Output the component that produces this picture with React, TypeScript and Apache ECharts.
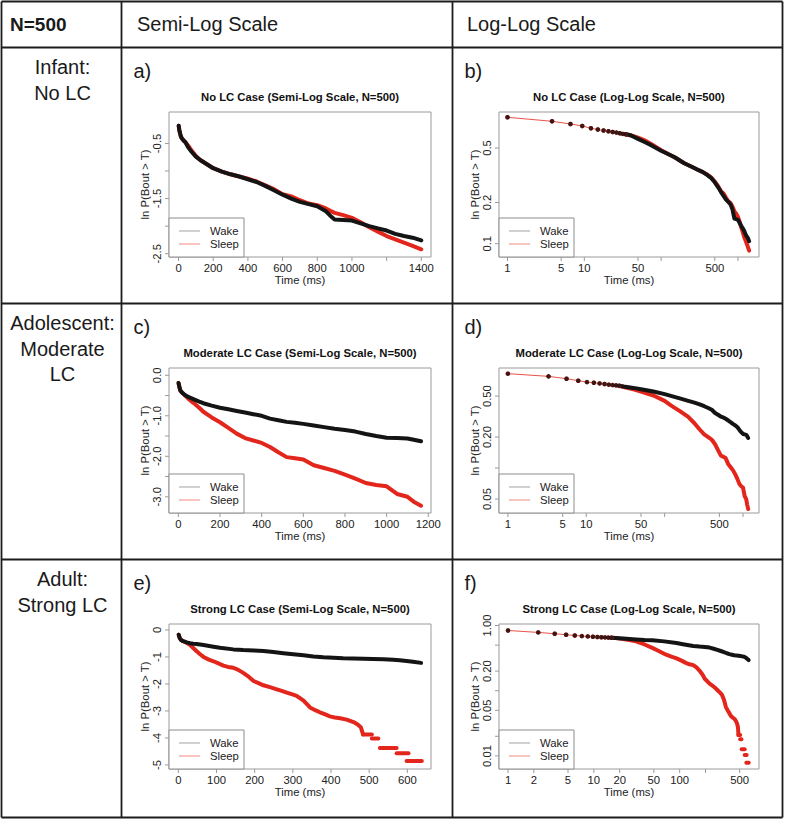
import React, { useEffect, useRef } from "react";
import * as echarts from "echarts";

// ---------------- texts ----------------
const headerLabels = ["N=500", "Semi-Log Scale", "Log-Log Scale"];
const rowLabels = [["Infant:", "No LC"], ["Adolescent:", "Moderate", "LC"], ["Adult:", "Strong LC"]];
const panelLetters = ["a)", "b)", "c)", "d)", "e)", "f)"];
const panelTitles = [
  "No LC Case (Semi-Log Scale, N=500)",
  "No LC Case (Log-Log Scale, N=500)",
  "Moderate LC Case (Semi-Log Scale, N=500)",
  "Moderate LC Case (Log-Log Scale, N=500)",
  "Strong LC Case (Semi-Log Scale, N=500)",
  "Strong LC Case (Log-Log Scale, N=500)",
];
const legendLabels = ["Wake", "Sleep"];
const xAxisTitle = "Time (ms)";
const yAxisTitle = "ln P(Bout > T)";

// ---------------- data: time (ms) and ln P(Bout > T) ----------------
const noLcWakeT = [1, 3.8, 6.6, 9.4, 12.2, 15, 17.8, 20.6, 23.4, 26.2, 29, 31.8, 34.6, 40, 50, 60, 75, 100, 125, 150, 200, 250, 300, 350, 400, 450, 500, 550, 600, 650, 700, 750, 800, 850, 875, 900, 950, 1000, 1050, 1100, 1150, 1200, 1250, 1300, 1350, 1400];
const noLcWakeLnP = [-0.178, -0.245, -0.29, -0.323, -0.362, -0.384, -0.4, -0.412, -0.425, -0.435, -0.446, -0.457, -0.462, -0.48, -0.54, -0.59, -0.65, -0.74, -0.8, -0.85, -0.95, -1.01, -1.06, -1.1, -1.15, -1.2, -1.27, -1.35, -1.43, -1.5, -1.56, -1.6, -1.64, -1.73, -1.81, -1.88, -1.89, -1.9, -1.95, -2.0, -2.04, -2.08, -2.14, -2.18, -2.21, -2.26];
const noLcSleepT = [1, 3.8, 6.6, 9.4, 12.2, 15, 17.8, 20.6, 23.4, 26.2, 29, 31.8, 34.6, 40, 50, 60, 75, 100, 125, 150, 200, 250, 300, 350, 400, 450, 500, 550, 600, 650, 700, 750, 800, 850, 875, 900, 950, 1000, 1050, 1100, 1150, 1200, 1250, 1300, 1350, 1400];
const noLcSleepLnP = [-0.178, -0.245, -0.29, -0.323, -0.362, -0.384, -0.4, -0.412, -0.425, -0.435, -0.446, -0.457, -0.462, -0.48, -0.52, -0.56, -0.63, -0.73, -0.8, -0.85, -0.95, -1.01, -1.06, -1.1, -1.14, -1.19, -1.26, -1.33, -1.42, -1.46, -1.53, -1.59, -1.62, -1.68, -1.72, -1.76, -1.8, -1.85, -1.93, -2.02, -2.1, -2.18, -2.24, -2.3, -2.36, -2.42];

const modWakeT = [1, 3.3, 5.6, 7.9, 10.2, 12.5, 14.8, 17.1, 19.4, 21.7, 24, 26.3, 30, 40, 50, 72, 100, 120, 160, 200, 240, 280, 320, 360, 400, 440, 480, 520, 560, 600, 650, 700, 750, 800, 850, 900, 950, 1000, 1050, 1100, 1130, 1165];
const modWakeLnP = [-0.192, -0.252, -0.304, -0.35, -0.38, -0.394, -0.41, -0.424, -0.438, -0.447, -0.454, -0.462, -0.48, -0.51, -0.54, -0.59, -0.65, -0.69, -0.75, -0.8, -0.84, -0.88, -0.92, -0.96, -1.0, -1.07, -1.11, -1.15, -1.17, -1.2, -1.24, -1.28, -1.32, -1.35, -1.39, -1.45, -1.5, -1.54, -1.55, -1.56, -1.59, -1.63];
const modSleepT = [1, 3.3, 5.6, 7.9, 10.2, 12.5, 14.8, 17.1, 19.4, 21.7, 24, 26.3, 30, 40, 50, 72, 100, 120, 160, 200, 240, 280, 320, 360, 400, 440, 480, 520, 560, 600, 650, 700, 750, 800, 850, 900, 950, 1000, 1050, 1100, 1130, 1165];
const modSleepLnP = [-0.192, -0.252, -0.304, -0.35, -0.38, -0.394, -0.41, -0.424, -0.438, -0.447, -0.454, -0.465, -0.49, -0.54, -0.59, -0.68, -0.8, -0.9, -1.04, -1.16, -1.3, -1.44, -1.55, -1.61, -1.67, -1.77, -1.9, -2.02, -2.05, -2.08, -2.22, -2.29, -2.36, -2.45, -2.55, -2.66, -2.71, -2.74, -2.93, -3.0, -3.12, -3.22];

const strongWakeT = [1, 2.25, 3.5, 4.75, 6, 7.25, 8.5, 9.75, 11, 12.25, 13.5, 14.75, 16, 18, 22, 26, 31, 39, 48, 66, 92, 109, 144, 170, 197, 223, 249, 275, 301, 328, 354, 380, 406, 432, 459, 485, 511, 537, 563, 580, 598, 615, 636];
const strongWakeLnP = [-0.175, -0.244, -0.29, -0.326, -0.35, -0.373, -0.385, -0.396, -0.405, -0.413, -0.42, -0.427, -0.433, -0.44, -0.46, -0.475, -0.49, -0.51, -0.52, -0.56, -0.62, -0.66, -0.72, -0.745, -0.76, -0.78, -0.82, -0.86, -0.9, -0.94, -0.98, -1.01, -1.03, -1.05, -1.06, -1.07, -1.08, -1.09, -1.1, -1.12, -1.15, -1.18, -1.22];
const strongSleepT = [1, 2.25, 3.5, 4.75, 6, 7.25, 8.5, 9.75, 11, 12.25, 13.5, 14.75, 16, 18, 22, 26, 31, 39, 48, 57, 66, 80, 92, 105, 118, 130, 144, 157, 170, 185, 197, 210, 223, 240, 258, 271, 284, 297, 310, 328, 345, 360, 371, 385, 397, 410, 424, 441, 459, 470, 478, 484];
const strongSleepLnP = [-0.175, -0.244, -0.29, -0.326, -0.35, -0.373, -0.385, -0.396, -0.405, -0.413, -0.42, -0.427, -0.433, -0.445, -0.48, -0.51, -0.56, -0.67, -0.79, -0.9, -1.0, -1.1, -1.16, -1.24, -1.32, -1.37, -1.4, -1.48, -1.59, -1.74, -1.89, -1.97, -2.05, -2.12, -2.2, -2.26, -2.32, -2.38, -2.44, -2.62, -2.87, -2.98, -3.05, -3.13, -3.2, -3.24, -3.27, -3.32, -3.41, -3.5, -3.6, -3.87];
// last few bouts: flat runs (start, end, ln P)
const strongSleepTailStart = [484, 507, 528, 572, 598];
const strongSleepTailEnd = [507, 524, 572, 603, 638];
const strongSleepTailLnP = [-3.87, -4.02, -4.37, -4.57, -4.85];

// ---------------- ticks ----------------
const aXTicks = [0, 200, 400, 600, 800, 1000, 1200, 1400];
const aXLabels = ["0", "200", "400", "600", "800", "1000", "", "1400"];
const aYTicks = [-0.5, -1, -1.5, -2, -2.5];
const aYLabels = ["-0.5", "", "-1.5", "", "-2.5"];
const bXTicks = [1, 5, 10, 50, 100, 500, 1000];
const bXLabels = ["1", "5", "10", "50", "", "500", ""];
const bYTicks = [0.1, 0.2, 0.5];
const bYLabels = ["0.1", "0.2", "0.5"];
const cXTicks = [0, 200, 400, 600, 800, 1000, 1200];
const cXLabels = ["0", "200", "400", "600", "800", "1000", "1200"];
const cYTicks = [0, -0.5, -1, -1.5, -2, -2.5, -3];
const cYLabels = ["0.0", "", "-1.0", "", "-2.0", "", "-3.0"];
const dXTicks = [1, 5, 10, 50, 100, 500, 1000];
const dXLabels = ["1", "5", "10", "50", "", "500", ""];
const dYTicks = [0.05, 0.1, 0.2, 0.5];
const dYLabels = ["0.05", "", "0.20", "0.50"];
const eXTicks = [0, 100, 200, 300, 400, 500, 600];
const eXLabels = ["0", "100", "200", "300", "400", "500", "600"];
const eYTicks = [0, -1, -2, -3, -4, -5];
const eYLabels = ["0", "-1", "-2", "-3", "-4", "-5"];
const fXTicks = [1, 2, 5, 10, 20, 50, 100, 200, 500];
const fXLabels = ["1", "2", "5", "10", "20", "50", "100", "", "500"];
const fYTicks = [0.01, 0.02, 0.05, 0.1, 0.2, 0.5, 1];
const fYLabels = ["0.01", "", "0.05", "", "0.20", "", "1.00"];

// ---------------- layout / style ----------------
const FONT = '"Liberation Sans", Arial, Helvetica, sans-serif';
const WAKE_COLOR = "#141414";
const SLEEP_COLOR = "#e3261c";
const LEGEND_WAKE = "#a3a3a3";
const LEGEND_SLEEP = "#f28a80";
const BOX_COLOR = "#9a9a9a";
const TABLE_COLOR = "#1c1c1c";
const COL_X = [1.5, 121.5, 452.5, 782.5];
const ROW_Y = [1.5, 47.5, 303.5, 559.5, 817.5];
const GRID_LEFT = [169, 499];
const GRID_WIDTH = [262, 260];
const GRID_TOP_OFFSET = 64.5;
const GRID_HEIGHT = 145;

type Panel = {
  kind: "semi" | "log";
  row: number;
  col: number;
  x: [number, number];
  y: [number, number];
  xTicks: number[];
  xLabels: string[];
  yTicks: number[];
  yLabels: string[];
  wake: [number[], number[]];
  sleep: [number[], number[]];
  dots: number;
  tail: boolean;
};

const panels: Panel[] = [
  { kind: "semi", row: 0, col: 0, x: [-55, 1456], y: [-2.56, 0.07], xTicks: aXTicks, xLabels: aXLabels, yTicks: aYTicks, yLabels: aYLabels, wake: [noLcWakeT, noLcWakeLnP], sleep: [noLcSleepT, noLcSleepLnP], dots: 0, tail: false },
  { kind: "log", row: 0, col: 1, x: [0.775, 1880], y: [0.08, 0.915], xTicks: bXTicks, xLabels: bXLabels, yTicks: bYTicks, yLabels: bYLabels, wake: [noLcWakeT, noLcWakeLnP], sleep: [noLcSleepT, noLcSleepLnP], dots: 13, tail: false },
  { kind: "semi", row: 1, col: 0, x: [-45, 1213], y: [-3.4, 0.18], xTicks: cXTicks, xLabels: cXLabels, yTicks: cYTicks, yLabels: cYLabels, wake: [modWakeT, modWakeLnP], sleep: [modSleepT, modSleepLnP], dots: 0, tail: false },
  { kind: "log", row: 1, col: 1, x: [0.77, 1600], y: [0.0366, 0.937], xTicks: dXTicks, xLabels: dXLabels, yTicks: dYTicks, yLabels: dYLabels, wake: [modWakeT, modWakeLnP], sleep: [modSleepT, modSleepLnP], dots: 12, tail: false },
  { kind: "semi", row: 2, col: 0, x: [-24.5, 662], y: [-5.15, 0.22], xTicks: eXTicks, xLabels: eXLabels, yTicks: eYTicks, yLabels: eYLabels, wake: [strongWakeT, strongWakeLnP], sleep: [strongSleepT, strongSleepLnP], dots: 0, tail: true },
  { kind: "log", row: 2, col: 1, x: [0.785, 840], y: [0.0063, 1.055], xTicks: fXTicks, xLabels: fXLabels, yTicks: fYTicks, yLabels: fYLabels, wake: [strongWakeT, strongWakeLnP], sleep: [strongSleepT, strongSleepLnP], dots: 13, tail: true },
];

const font = (size: number, bold = false) => `${bold ? "bold " : ""}${size}px ${FONT}`;

const text = (x: number, y: number, t: string, size: number, align = "center", opts: any = {}) => ({
  type: "text",
  x,
  y,
  rotation: opts.rotation || 0,
  silent: true,
  z: 20,
  style: {
    text: t,
    font: font(size, opts.bold),
    fill: opts.fill || "#1a1a1a",
    textAlign: align,
    textVerticalAlign: "middle",
    align,
    verticalAlign: "middle",
  },
});

const line = (x1: number, y1: number, x2: number, y2: number, stroke: string, lineWidth: number) => ({
  type: "line",
  silent: true,
  z: 20,
  shape: { x1, y1, x2, y2 },
  style: { stroke, lineWidth },
});

export default function App() {
  const ref = useRef<HTMLDivElement>(null);

  useEffect(() => {
    if (!ref.current) return;
    const chart = echarts.init(ref.current, null, { renderer: "svg" });

    const grids: any[] = [];
    const xAxes: any[] = [];
    const yAxes: any[] = [];
    const series: any[] = [];
    const hidden = { axisLine: { show: false }, axisTick: { show: false }, axisLabel: { show: false }, splitLine: { show: false } };

    panels.forEach((p, i) => {
      const gl = GRID_LEFT[p.col];
      const gt = ROW_Y[p.row + 1] + GRID_TOP_OFFSET;
      grids.push({ left: gl, top: gt, width: GRID_WIDTH[p.col], height: GRID_HEIGHT, show: true, borderColor: BOX_COLOR, borderWidth: 1, backgroundColor: "rgba(0,0,0,0)" });
      const type = p.kind === "semi" ? "value" : "log";
      xAxes.push({ type, gridIndex: i, min: p.x[0], max: p.x[1], ...(type === "log" ? { logBase: 10 } : {}), ...hidden });
      yAxes.push({ type, gridIndex: i, min: p.y[0], max: p.y[1], ...(type === "log" ? { logBase: 10 } : {}), ...hidden });

      const toY = (l: number) => (p.kind === "semi" ? l : Math.exp(l));
      const pts = (c: [number[], number[]]) => c[0].map((t, k) => [t, toY(c[1][k])]);
      const start = p.kind === "log" ? Math.max(p.dots - 1, 0) : 0;
      const thick = (data: number[][], color: string, z: number) => ({
        type: "line",
        xAxisIndex: i,
        yAxisIndex: i,
        data,
        symbol: "none",
        silent: true,
        lineStyle: { color, width: 4, cap: "round", join: "round" },
        z,
      });

      series.push(thick(pts(p.sleep).slice(start), SLEEP_COLOR, 2));
      if (p.tail) {
        strongSleepTailStart.forEach((s, k) => {
          series.push(thick([[s, toY(strongSleepTailLnP[k])], [strongSleepTailEnd[k], toY(strongSleepTailLnP[k])]], SLEEP_COLOR, 2));
        });
      }
      series.push(thick(pts(p.wake).slice(start), WAKE_COLOR, 3));
      if (p.kind === "log" && p.dots > 0) {
        series.push({
          type: "line",
          xAxisIndex: i,
          yAxisIndex: i,
          data: pts(p.sleep).slice(0, p.dots),
          symbol: "circle",
          symbolSize: 4.5,
          showAllSymbol: true,
          silent: true,
          itemStyle: { color: SLEEP_COLOR },
          lineStyle: { color: SLEEP_COLOR, width: 0.8 },
          z: 4,
        });
        series.push({
          type: "scatter",
          xAxisIndex: i,
          yAxisIndex: i,
          data: pts(p.wake).slice(0, p.dots),
          symbolSize: 4.5,
          silent: true,
          itemStyle: { color: WAKE_COLOR },
          z: 5,
        });
      }
    });

    chart.setOption({
      animation: false,
      backgroundColor: "#ffffff",
      grid: grids,
      xAxis: xAxes,
      yAxis: yAxes,
      series,
    });

    const g: any[] = [];
    // table lines
    COL_X.forEach((x) => g.push(line(x, ROW_Y[0], x, ROW_Y[ROW_Y.length - 1], TABLE_COLOR, 1.8)));
    ROW_Y.forEach((y) => g.push(line(COL_X[0], y, COL_X[COL_X.length - 1], y, TABLE_COLOR, 1.8)));
    // header
    g.push(text(10, 24, headerLabels[0], 19, "left", { bold: true }));
    g.push(text(COL_X[1] + 15.5, 24, headerLabels[1], 20, "left"));
    g.push(text(COL_X[2] + 14.5, 24, headerLabels[2], 20, "left"));
    // row labels
    rowLabels.forEach((lines, r) => {
      lines.forEach((t, k) => g.push(text((COL_X[0] + COL_X[1]) / 2 + 1, ROW_Y[r + 1] + 19.5 + k * 25.5, t, 20, "center")));
    });

    panels.forEach((p, i) => {
      const gl = GRID_LEFT[p.col];
      const gw = GRID_WIDTH[p.col];
      const gt = ROW_Y[p.row + 1] + GRID_TOP_OFFSET;
      const gb = gt + GRID_HEIGHT;
      g.push(text(COL_X[p.col + 1] + 12, ROW_Y[p.row + 1] + 23, panelLetters[i], 20, "left"));
      g.push(text(gl + gw / 2, gt - 15, panelTitles[i], 11.3, "center", { bold: true, fill: "#111" }));
      p.xTicks.forEach((v, k) => {
        const px = chart.convertToPixel({ xAxisIndex: i } as any, v) as number;
        g.push(line(px, gb, px, gb + 4, BOX_COLOR, 1));
        if (p.xLabels[k]) g.push(text(px, gb + 10.5, p.xLabels[k], 11.3, "center", { fill: "#222" }));
      });
      p.yTicks.forEach((v, k) => {
        const py = chart.convertToPixel({ yAxisIndex: i } as any, v) as number;
        g.push(line(gl - 4, py, gl, py, BOX_COLOR, 1));
        if (p.yLabels[k]) g.push(text(gl - 12.5, py, p.yLabels[k], 11.3, "center", { fill: "#222", rotation: Math.PI / 2 }));
      });
      g.push(text(gl + gw / 2, gb + 22.5, xAxisTitle, 11.3, "center", { fill: "#222" }));
      g.push(text(gl - 24.5, gt + GRID_HEIGHT / 2, yAxisTitle, 11.3, "center", { fill: "#222", rotation: Math.PI / 2 }));
      // legend
      g.push({ type: "rect", silent: true, z: 19, shape: { x: gl, y: gb - 39, width: 75, height: 39 }, style: { fill: "#ffffff", stroke: "#8c8c8c", lineWidth: 1 } });
      g.push(line(gl + 10, gb - 26, gl + 31, gb - 26, LEGEND_WAKE, 1));
      g.push(line(gl + 10, gb - 13, gl + 31, gb - 13, LEGEND_SLEEP, 1));
      g.push(text(gl + 41, gb - 26, legendLabels[0], 11.3, "left", { fill: "#222" }));
      g.push(text(gl + 41, gb - 13, legendLabels[1], 11.3, "left", { fill: "#222" }));
    });

    chart.setOption({ graphic: g });
    return () => chart.dispose();
  }, []);

  return <div ref={ref} style={{ position: "absolute", left: 0, top: 0, width: 786, height: 821, background: "#fff" }} />;
}
